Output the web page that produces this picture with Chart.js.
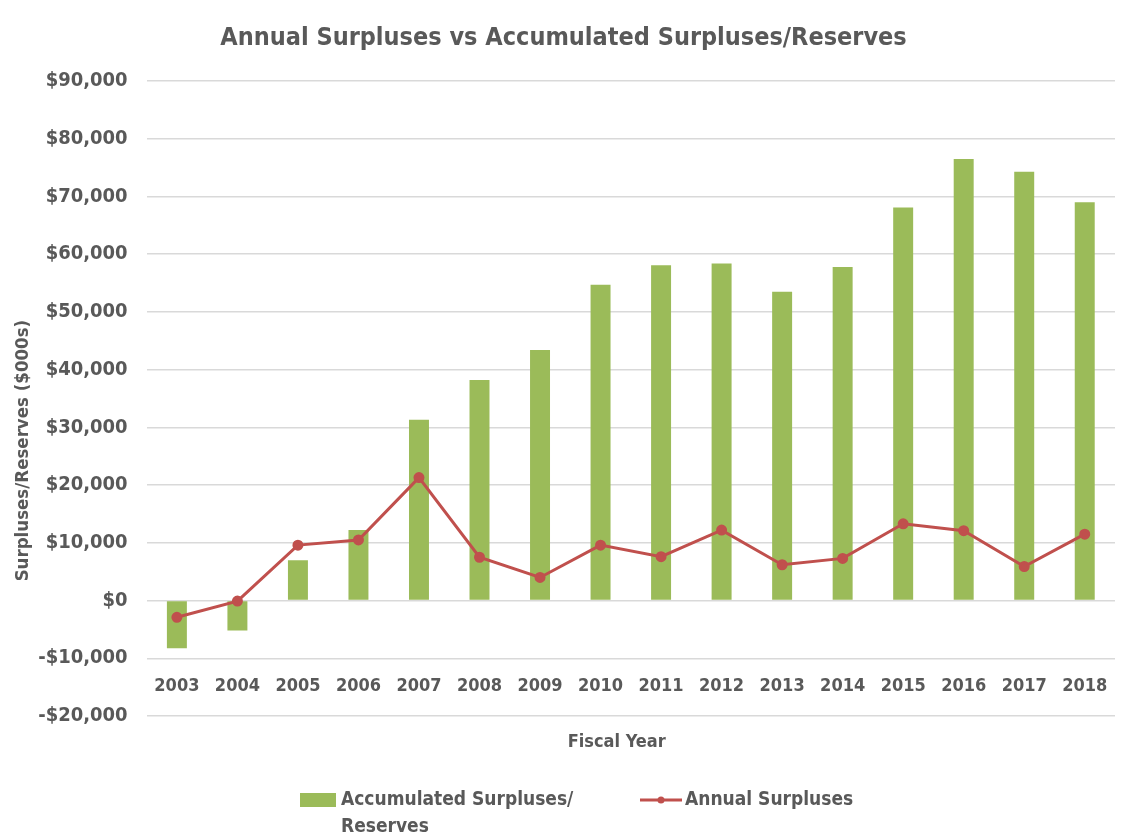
<!DOCTYPE html>
<html>
<head>
<meta charset="utf-8">
<title>Annual Surpluses vs Accumulated Surpluses/Reserves</title>
<script src="https://cdn.jsdelivr.net/npm/chart.js@4"></script>
<style>
  html, body { margin: 0; padding: 0; background: #fff; }
  #wrap { width: 1125px; height: 839px; position: relative; }
</style>
</head>
<body>
<div id="wrap"><canvas id="surplusChart"></canvas></div>
<script>
// Años fiscales y valores (miles de $)
const years = ['2003', '2004', '2005', '2006', '2007', '2008', '2009', '2010',
  '2011', '2012', '2013', '2014', '2015', '2016', '2017', '2018'];
const accumulated = [-8250, -5200, 7000, 12200, 31300, 38200, 43400, 54700,
  58100, 58400, 53500, 57800, 68100, 76500, 74300, 69000];
const annual = [-2900, -100, 9600, 10500, 21300, 7500, 4000, 9600,
  7600, 12200, 6200, 7300, 13300, 12100, 5900, 11500];
const yTicks = [-20000, -10000, 0, 10000, 20000, 30000, 40000, 50000, 60000, 70000, 80000, 90000];

const FONT = "'DejaVu Sans Condensed', 'Liberation Sans', sans-serif";
const GREY = '#595959';
const GREEN = '#9bbb59';
const RED = '#c0504d';

function money(v) {
  const s = '$' + Math.abs(v).toLocaleString('en-US');
  return v < 0 ? '-' + s : s;
}

// Leyenda dibujada a mano (la primera etiqueta va en dos líneas)
const bottomLegend = {
  id: 'bottomLegend',
  afterDraw(chart) {
    const ctx = chart.ctx;
    const y = 800;
    ctx.save();
    ctx.font = 'bold 19px ' + FONT;
    ctx.textBaseline = 'middle';
    ctx.textAlign = 'left';

    ctx.fillStyle = GREEN;
    ctx.fillRect(300, y - 7, 36, 14);
    ctx.fillStyle = GREY;
    ctx.fillText('Accumulated Surpluses/', 341, y);
    ctx.fillText('Reserves', 341, y + 27);

    ctx.strokeStyle = RED;
    ctx.lineWidth = 3;
    ctx.beginPath();
    ctx.moveTo(640, y);
    ctx.lineTo(682, y);
    ctx.stroke();
    ctx.fillStyle = RED;
    ctx.beginPath();
    ctx.arc(661, y, 3.5, 0, Math.PI * 2);
    ctx.fill();
    ctx.fillStyle = GREY;
    ctx.fillText('Annual Surpluses', 685, y);
    ctx.restore();
  }
};

const ctx = document.getElementById('surplusChart').getContext('2d');
new Chart(ctx, {
  data: {
    labels: years,
    datasets: [
      {
        type: 'line',
        label: 'Annual Surpluses',
        data: annual,
        borderColor: RED,
        backgroundColor: RED,
        borderWidth: 3,
        pointRadius: 4,
        pointHoverRadius: 4,
        tension: 0,
        order: 0
      },
      {
        type: 'bar',
        label: 'Accumulated Surpluses/Reserves',
        data: accumulated,
        backgroundColor: GREEN,
        barPercentage: 0.33,
        categoryPercentage: 1,
        order: 1
      }
    ]
  },
  options: {
    responsive: true,
    maintainAspectRatio: false,
    animation: false,
    layout: { padding: { left: 12, right: 10, top: 0, bottom: 123 } },
    plugins: {
      legend: { display: false },
      tooltip: { enabled: false },
      title: {
        display: true,
        text: 'Annual Surpluses vs Accumulated Surpluses/Reserves',
        color: GREY,
        font: { family: FONT, size: 25, weight: 'bold' },
        padding: { top: 23, bottom: 28 }
      }
    },
    scales: {
      x: {
        // el eje de categorías se ubica entre -10.000 y -20.000
        position: { y: -12600 },
        grid: { display: false, drawTicks: false },
        border: { display: false },
        ticks: {
          color: GREY,
          font: { family: FONT, size: 18, weight: 'bold' },
          padding: 2,
          maxRotation: 0,
          autoSkip: false
        },
        title: {
          display: true,
          text: 'Fiscal Year' + '\u00a0'.repeat(5),
          color: GREY,
          font: { family: FONT, size: 18, weight: 'bold' },
          padding: { top: 33, bottom: 0 }
        }
      },
      y: {
        min: -20000,
        max: 90000,
        afterBuildTicks(scale) {
          scale.ticks = yTicks.map(v => ({ value: v }));
        },
        grid: { color: '#d9d9d9', lineWidth: 1.5, drawTicks: false },
        border: { display: false },
        ticks: {
          color: GREY,
          font: { family: FONT, size: 20, weight: 'bold' },
          padding: 19,
          callback: v => money(v)
        },
        title: {
          display: true,
          text: 'Surpluses/Reserves ($000s)' + '\u00a0'.repeat(18),
          color: GREY,
          font: { family: FONT, size: 18.5, weight: 'bold' },
          padding: { top: 0, bottom: -15 }
        }
      }
    }
  },
  plugins: [bottomLegend]
});
</script>
</body>
</html>
